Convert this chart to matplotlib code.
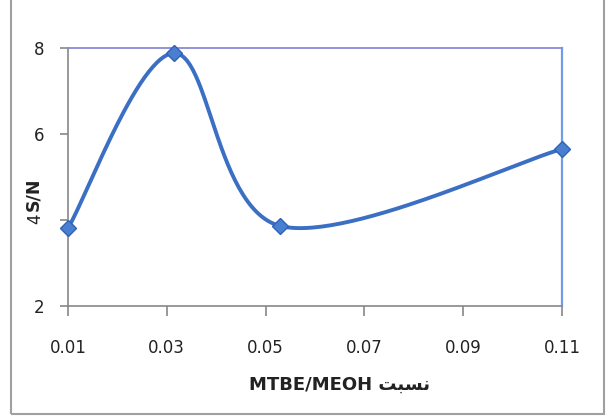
import matplotlib
matplotlib.use('Agg')
import matplotlib.pyplot as plt
from matplotlib.patches import Rectangle
import numpy as np

# Datos
ratio = [0.01, 0.0315, 0.053, 0.11]
s_n = [3.81, 7.88, 3.86, 5.65]
xticks = [0.01, 0.03, 0.05, 0.07, 0.09, 0.11]
yticks = [2, 4, 6, 8]


def suavizar(x, y, n=60):
    """Curva suavizada tipo Excel (Bezier con puntos de control 1/6)."""
    x = np.asarray(x, float)
    y = np.asarray(y, float)
    px = np.concatenate([[x[0]], x, [x[-1]]])
    py = np.concatenate([[y[0]], y, [y[-1]]])
    xs, ys = [], []
    t = np.linspace(0, 1, n)
    for i in range(1, len(px) - 2):
        p0 = np.array([px[i], py[i]])
        p3 = np.array([px[i + 1], py[i + 1]])
        c1 = p0 + (np.array([px[i + 1], py[i + 1]]) - np.array([px[i - 1], py[i - 1]])) / 6
        c2 = p3 - (np.array([px[i + 2], py[i + 2]]) - np.array([px[i], py[i]])) / 6
        b = ((1 - t) ** 3)[:, None] * p0 + (3 * (1 - t) ** 2 * t)[:, None] * c1 \
            + (3 * (1 - t) * t ** 2)[:, None] * c2 + (t ** 3)[:, None] * p3
        xs.extend(b[:, 0])
        ys.extend(b[:, 1])
    return xs, ys


fig = plt.figure(figsize=(6.06, 4.17), dpi=100)
ax = fig.add_axes([68 / 606, 111 / 417, 494 / 606, 258 / 417])

cx, cy = suavizar(ratio, s_n)
ax.plot(cx, cy, color='#3a6fc4', lw=2.8, zorder=3, clip_on=False)
ax.plot(ratio, s_n, linestyle='none', marker='D', markersize=8,
        color='#4a7ed0', markeredgecolor='#2f62b5', zorder=4, clip_on=False)

ax.set_xlim(0.01, 0.11)
ax.set_ylim(2, 8)
ax.set_xticks(xticks)
ax.set_xticklabels([f"{v:.2f}" for v in xticks])
ax.set_yticks(yticks)
ax.tick_params(axis='both', labelsize=12, colors='#888888', labelcolor='#222222',
               width=1.2, direction='out')
ax.tick_params(axis='x', length=7, pad=17)
ax.tick_params(axis='y', length=6, pad=11)

# la etiqueta "4" aparece girada en el original
for lab in ax.get_yticklabels():
    if lab.get_text() == '4':
        lab.set_rotation(90)

for lado in ['left', 'bottom']:
    ax.spines[lado].set_color('#888888')
    ax.spines[lado].set_linewidth(1.2)
ax.spines['top'].set_color('#8a8ad6')
ax.spines['right'].set_color('#6f9ee6')
ax.spines['top'].set_linewidth(1.3)
ax.spines['right'].set_linewidth(1.6)

ax.set_ylabel("S/N", fontsize=12.5, fontweight='bold', color='#222222')
ax.yaxis.set_label_coords(-0.052, 0.434)
ax.set_xlabel("MTBE/MEOH \uFE96\uFE92\uFEB4\uFEE7", fontsize=13,
              fontweight='bold', color='#222222')
ax.xaxis.set_label_coords(0.549, -0.272)

fig.patches.append(Rectangle((11 / 606, 3 / 417), 593 / 606, 1.0,
                             transform=fig.transFigure, fill=False,
                             edgecolor='#a0a0a0', lw=1.5))

plt.savefig("out.png", dpi=100)
plt.close()
